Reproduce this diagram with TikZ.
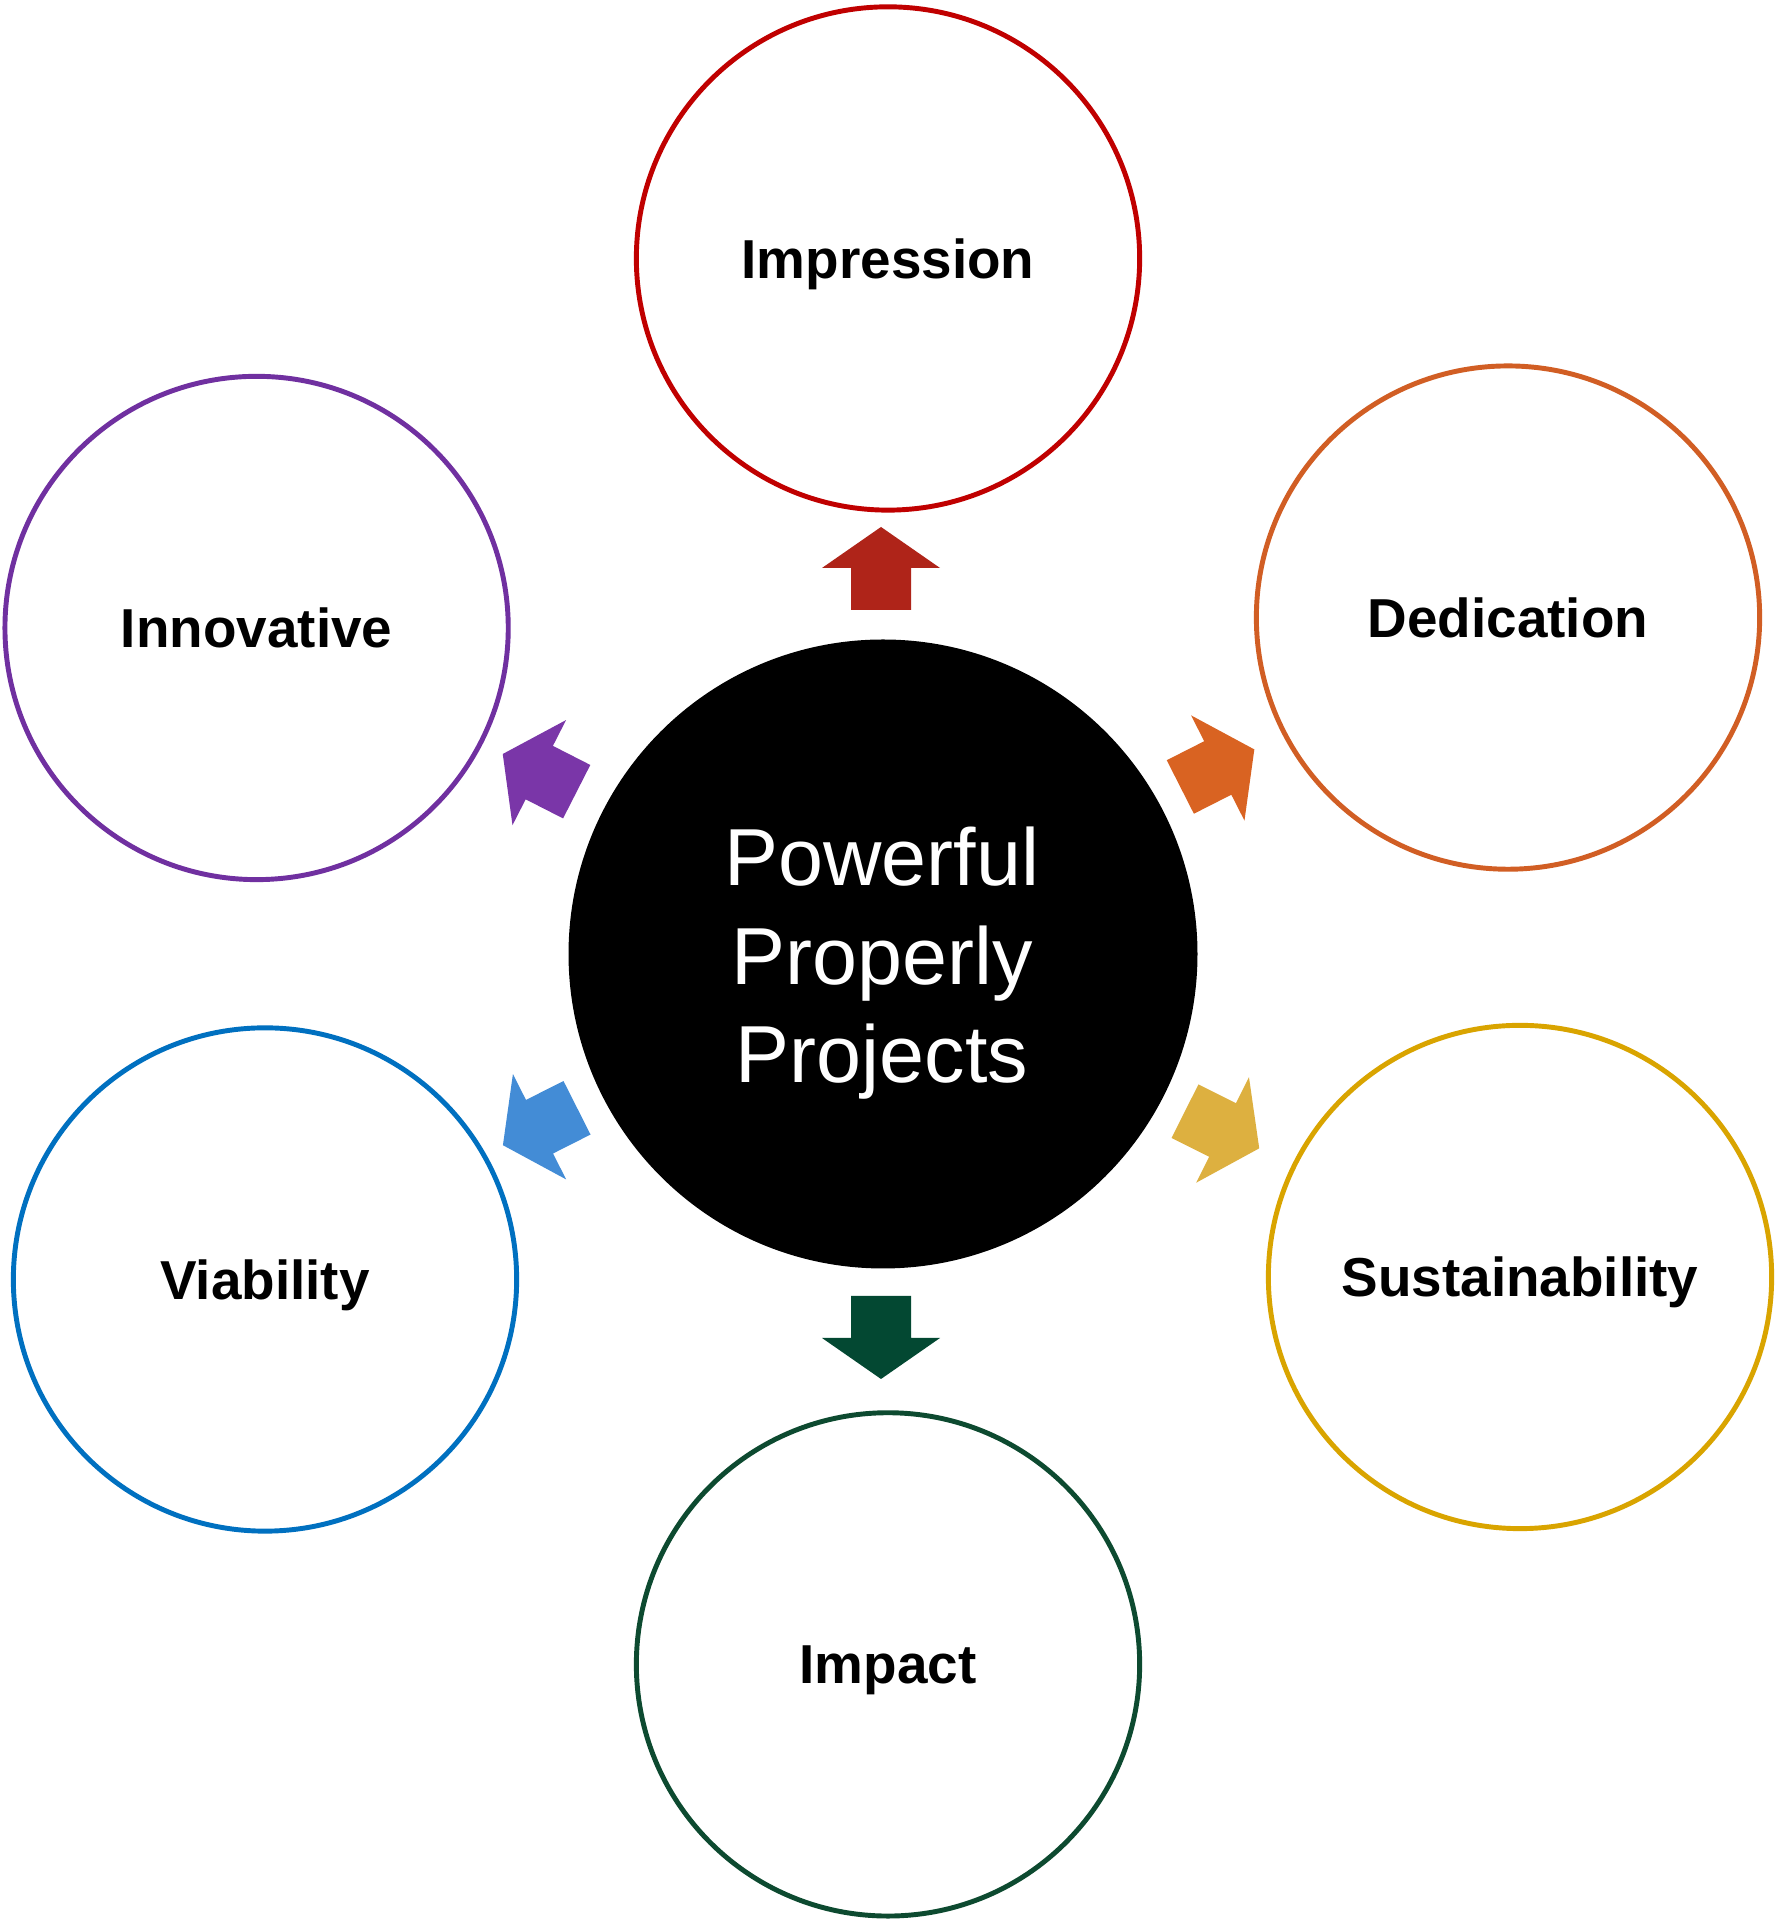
\documentclass[tikz,border=0pt]{standalone}
\usepackage{fontspec}
\setmainfont{Liberation Sans}
\definecolor{cred}{HTML}{C00000}
\definecolor{ared}{HTML}{AF2419}
\definecolor{corange}{HTML}{D15E24}
\definecolor{aorange}{HTML}{D96322}
\definecolor{cgold}{HTML}{D9A400}
\definecolor{agold}{HTML}{DDB040}
\definecolor{cgreen}{HTML}{0D4A30}
\definecolor{agreen}{HTML}{034832}
\definecolor{cblue}{HTML}{0070C0}
\definecolor{ablue}{HTML}{438CD6}
\definecolor{cpurple}{HTML}{7030A0}
\definecolor{apurple}{HTML}{7A36A8}
\tikzset{
  ring/.style={circle, draw=#1, line width=1.4pt, fill=white, minimum size=503*0.28453pt, inner sep=0pt,
    text depth=0pt, font=\fontsize{15.6}{18}\selectfont\bfseries, text=black},
  hub/.style={circle, fill=black, draw=none, minimum size=628.6*0.28453pt, inner sep=0pt},
  hubtext/.style={align=center, inner sep=0pt, text=white, font=\fontsize{23}{28}\selectfont},
  blockarrow/.pic={\fill[#1] (0,-30) -- (42,-30) -- (42,-59) -- (83,0) -- (42,59) -- (42,30) -- (0,30) -- cycle;}
}
\begin{document}
\begin{tikzpicture}[x=0.01cm, y=0.01cm]
\useasboundingbox[fill=white] (0,0) rectangle (1778,1925);
\node[hub] (main) at (883,971) {};
\node[hubtext] (maintext) at (882,961.5) {Powerful\\Properly\\Projects};
\node[ring=cred] (impression) at (888,1666.5) {Impression};
\node[ring=corange] (dedication) at (1508,1307.4) {Dedication};
\node[ring=cgold] (sustain) at (1520,648) {Sustainability};
\node[ring=cgreen] (impact) at (888,260.6) {Impact};
\node[ring=cblue] (viability) at (265,645.5) {Viability};
\node[ring=cpurple] (innovative) at (256.6,1297) {Innovative};
\coordinate (tup) at (881,1315);
\coordinate (tdown) at (881,629);
\coordinate (tded) at (1180.3,1138);
\coordinate (tinn) at (576.7,1133.3);
\coordinate (tvia) at (577,817.2);
\coordinate (tsus) at (1185,813.8);
\pic[rotate=90] at (tup) {blockarrow=ared};
\pic[rotate=-90] at (tdown) {blockarrow=agreen};
\pic[rotate=26.9] at (tded) {blockarrow=aorange};
\pic[rotate=153] at (tinn) {blockarrow=apurple};
\pic[rotate=206.8] at (tvia) {blockarrow=ablue};
\pic[rotate=-26.6] at (tsus) {blockarrow=agold};
\end{tikzpicture}
\end{document}
